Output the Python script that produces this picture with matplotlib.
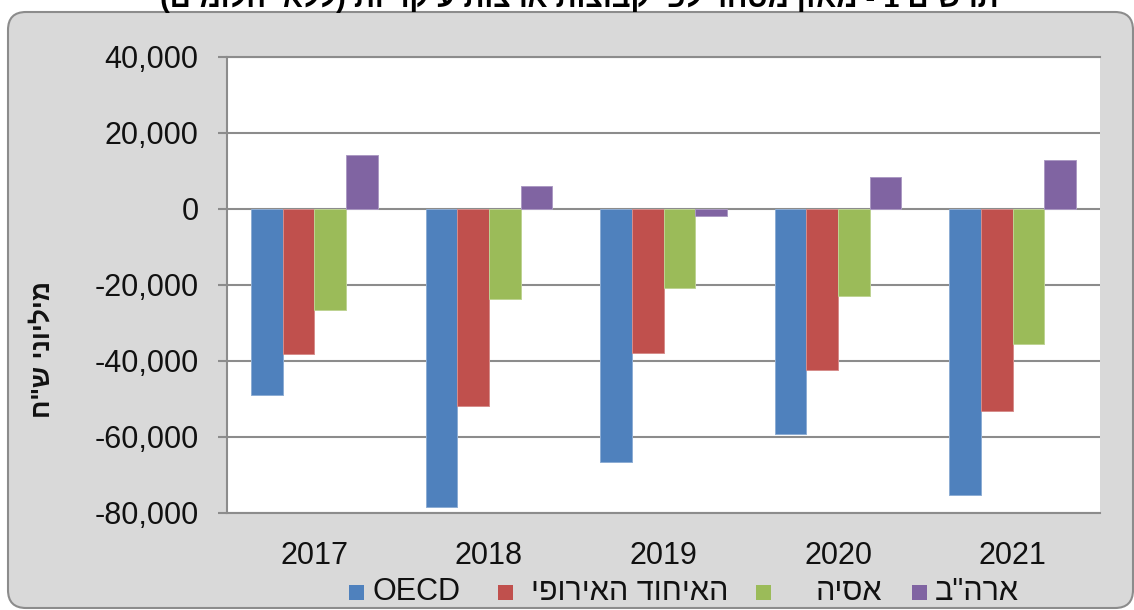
import re
import numpy as np
import matplotlib
matplotlib.use("Agg")
import matplotlib.pyplot as plt
import matplotlib.patches as mpatches
from matplotlib.colors import to_rgb
from matplotlib.ticker import FuncFormatter, MultipleLocator

plt.rcParams["font.family"] = ["Liberation Sans", "DejaVu Sans"]

# נתונים (מיליוני ש"ח)
years = ["2017", "2018", "2019", "2020", "2021"]
oecd = [-48900, -78400, -66500, -59100, -75300]
eu = [-38100, -51800, -37800, -42500, -53100]
asia = [-26700, -23600, -20800, -22900, -35600]
usa = [14300, 6100, -1800, 8500, 12900]

series_names = ["OECD", "האיחוד האירופי", "אסיה", 'ארה"ב']
colors = ["#4F81BD", "#C0504D", "#9BBB59", "#8064A2"]

title = "תרשים 1 - מאזן מסחר לפי קבוצות ארצות עיקריות (ללא יהלומים)"
ylabel = 'מיליוני ש"ח'

FRAME = "#D9D9D9"
GRID = "#8C8C8C"
W, H = 1134, 610


def rtl(s):
    """matplotlib אינו מטפל ב-bidi: הופכים את הסדר ידנית."""
    v = s[::-1]
    v = v.translate(str.maketrans("()", ")("))
    return re.sub(r"[0-9A-Za-z]+", lambda m: m.group(0)[::-1], v)


def lighter(c, k=0.35):
    r, g, b = to_rgb(c)
    return (r + (1 - r) * k, g + (1 - g) * k, b + (1 - b) * k)


fig = plt.figure(figsize=(W / 100, H / 100), dpi=100, facecolor="white")

# מסגרת אפורה מעוגלת
frame = mpatches.FancyBboxPatch((8, 2), 1125, 596,
                                boxstyle="round,pad=0,rounding_size=18",
                                transform=None, facecolor=FRAME,
                                edgecolor=GRID, linewidth=1.5, zorder=-5)
fig.add_artist(frame)

ax = fig.add_axes([227 / W, 1 - 513 / H, (1100 - 227) / W, (513 - 57) / H])
ax.set_facecolor("white")

x = np.arange(len(years))
bw = 0.181
for i, (vals, c) in enumerate(zip([oecd, eu, asia, usa], colors)):
    ax.bar(x + (i - 1.5) * bw, vals, bw, color=c, edgecolor=lighter(c),
           linewidth=0.7, zorder=3)

ax.set_xlim(-0.5, len(years) - 0.5)
ax.set_ylim(-80000, 40000)
ax.yaxis.set_major_locator(MultipleLocator(20000))
ax.yaxis.set_major_formatter(FuncFormatter(lambda v, p: f"{v:,.0f}"))
ax.set_xticks(x)
ax.set_xticklabels(years)

ax.grid(axis="y", color=GRID, linewidth=1.5, zorder=1)
ax.grid(axis="x", visible=False)
ax.spines["right"].set_visible(False)
for side in ["left", "bottom", "top"]:
    ax.spines[side].set_color(GRID)
    ax.spines[side].set_linewidth(1.5)

ax.tick_params(axis="y", length=6.5, width=1.5, color=GRID, pad=14,
               labelsize=22, labelcolor="#111111")
ax.tick_params(axis="x", length=0, pad=20, labelsize=22, labelcolor="#111111")

# כותרת (חתוכה בחלקה העליון כמו במקור)
fig.text(0.511, 1 - 7 / H, rtl(title), ha="center", va="baseline",
         fontsize=21, fontweight="bold", color="#000000")

# כותרת ציר Y
fig.text(42 / W, 1 - 350 / H, rtl(ylabel), rotation=90, ha="center",
         va="center", fontsize=19, fontweight="bold", color="#111111")

# מקרא ידני
sq_x = [349, 498, 756, 912]
txt_x = [372, 531, 816, 935]
for name, c, sx, tx in zip(series_names, colors, sq_x, txt_x):
    fig.add_artist(mpatches.Rectangle((sx, 10), 15, 15, transform=None,
                                      facecolor=c, edgecolor="none"))
    fig.text(tx / W, 18 / H, rtl(name), ha="left", va="center",
             fontsize=22, color="#111111")

fig.savefig("out.png", dpi=100)
